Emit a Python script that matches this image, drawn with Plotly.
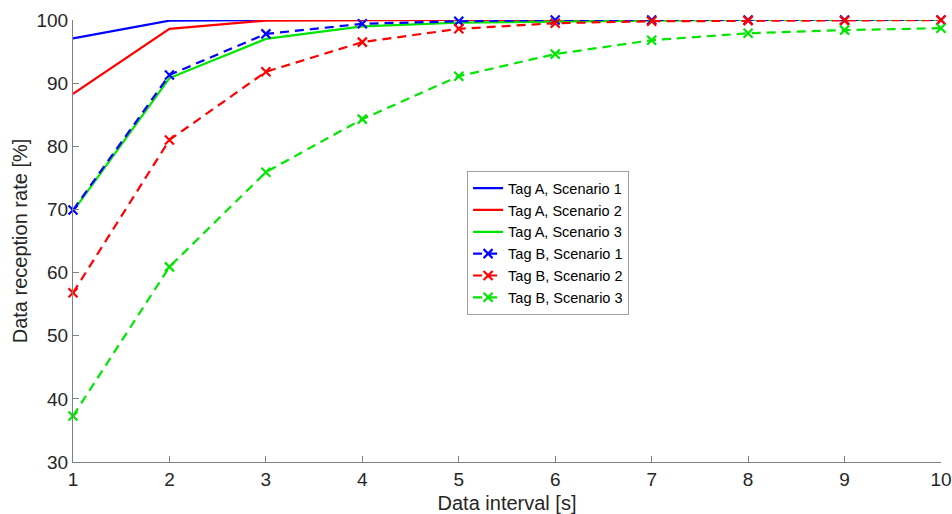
import plotly.graph_objects as go

x_interval = [1, 2, 3, 4, 5, 6, 7, 8, 9, 10]

tagA_s1 = [97.1, 99.9, 100.0, 100.0, 100.0, 100.0, 100.0, 100.0, 100.0, 100.0]
tagA_s2 = [88.3, 98.6, 99.9, 100.0, 100.0, 100.0, 100.0, 100.0, 100.0, 100.0]
tagA_s3 = [69.7, 90.8, 97.0, 99.0, 99.6, 99.8, 99.9, 100.0, 100.0, 100.0]
tagB_s1 = [69.9, 91.3, 97.8, 99.4, 99.8, 100.0, 100.0, 100.0, 100.0, 100.0]
tagB_s2 = [56.8, 81.0, 91.8, 96.5, 98.6, 99.5, 99.8, 99.9, 99.9, 100.0]
tagB_s3 = [37.3, 60.9, 75.9, 84.3, 91.1, 94.6, 96.8, 97.9, 98.4, 98.7]

y_ticks = [30, 40, 50, 60, 70, 80, 90, 100]

series_names = ["Tag A, Scenario 1", "Tag A, Scenario 2", "Tag A, Scenario 3",
                "Tag B, Scenario 1", "Tag B, Scenario 2", "Tag B, Scenario 3"]

BLUE = "#0000ff"
RED = "#ff0000"
GREEN = "#00e600"

fig = go.Figure()

solid = [(tagA_s1, BLUE), (tagA_s2, RED), (tagA_s3, GREEN)]
dashed = [(tagB_s1, BLUE), (tagB_s2, RED), (tagB_s3, GREEN)]

for i, (vals, col) in enumerate(solid):
    fig.add_trace(go.Scatter(
        x=x_interval, y=vals, mode="lines", name=series_names[i],
        line=dict(color=col, width=2.2), cliponaxis=False))

for i, (vals, col) in enumerate(dashed):
    fig.add_trace(go.Scatter(
        x=x_interval, y=vals, mode="lines+markers", name=series_names[3 + i],
        line=dict(color=col, width=2.2, dash="9px,6px"),
        marker=dict(symbol="x-thin", size=9, line=dict(color=col, width=2.2), color=col),
        cliponaxis=False))

axis_col = "#808080"
text_col = "#262626"

fig.update_layout(
    width=952, height=514,
    margin=dict(l=73, r=11, t=20, b=52),
    paper_bgcolor="white", plot_bgcolor="white",
    font=dict(family="Liberation Sans, Arial, sans-serif", color=text_col, size=19),
    showlegend=True,
    legend=dict(
        x=0.454, y=0.658, xanchor="left", yanchor="top",
        bgcolor="white", bordercolor="#a0a0a0", borderwidth=1,
        font=dict(size=14.5, color="#000000"),
        tracegroupgap=0, itemwidth=30,
    ),
    xaxis=dict(
        range=[1, 10], tickmode="array", tickvals=x_interval,
        ticks="inside", ticklen=6, tickcolor=axis_col,
        showline=True, linecolor=axis_col, linewidth=1,
        showgrid=False, zeroline=False, mirror=False, automargin=False,
        tickfont=dict(size=19, color=text_col),
        title=dict(text="Data interval [s]", font=dict(size=20, color=text_col), standoff=14),
    ),
    yaxis=dict(
        range=[30, 100], tickmode="array", tickvals=y_ticks,
        ticks="inside", ticklen=6, tickcolor=axis_col,
        showline=True, linecolor=axis_col, linewidth=1,
        showgrid=False, zeroline=False, mirror=False, automargin=False,
        tickfont=dict(size=19, color=text_col),
        title=dict(text="Data reception rate [%]", font=dict(size=20, color=text_col), standoff=3),
    ),
)

fig.write_html(
    "out.html",
    config={"displayModeBar": False},
    post_script=("document.body.style.margin='0';"
                 "document.body.style.overflow='hidden';"
                 "document.documentElement.style.overflow='hidden';"),
)
